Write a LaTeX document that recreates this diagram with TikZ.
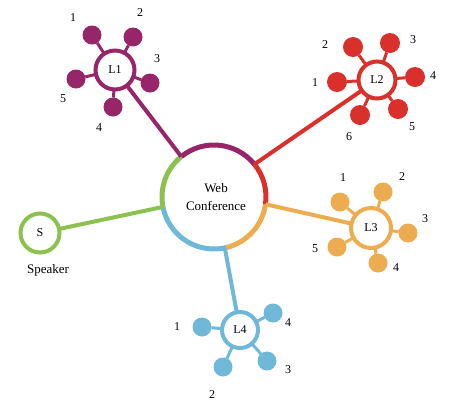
\documentclass[tikz,border=0pt]{standalone}
\usepackage{fontspec}
\setmainfont{Liberation Serif}
\definecolor{cPur}{RGB}{150,38,105}
\definecolor{cRed}{RGB}{218,48,44}
\definecolor{cOra}{RGB}{238,172,80}
\definecolor{cBlu}{RGB}{112,184,216}
\definecolor{cGre}{RGB}{140,193,80}
\begin{document}
\begin{tikzpicture}[x=1pt,y=-1pt,
  every node/.style={inner sep=0pt, outer sep=0pt},
  ring/.style={circle, draw=#1, line width=4pt, fill=white, font=\fontsize{12}{14}\selectfont},
  sat/.style={circle, fill=#1, minimum size=19pt},
  lnk/.style={draw=#1, line width=3pt},
  spoke/.style={draw=#1, line width=4pt},
  hubarc/.style={draw=#1, line width=5pt},
  num/.style={font=\fontsize{12}{14}\selectfont},
  word/.style={font=\fontsize{13}{18}\selectfont, align=center}
]
\useasboundingbox (0,0) rectangle (458,402);

% central hub
\node[circle, minimum size=104pt] (hub) at (214,197) {};
\node[word] (hubtext) at (216,197) {Web\\Conference};
\draw[hubarc=cPur] (hub.39)  arc[start angle=39,  end angle=129, radius=52pt];
\draw[hubarc=cGre] (hub.129) arc[start angle=129, end angle=191, radius=52pt];
\draw[hubarc=cBlu] (hub.191) arc[start angle=191, end angle=284, radius=52pt];
\draw[hubarc=cOra] (hub.284) arc[start angle=284, end angle=352, radius=52pt];
\draw[hubarc=cRed] (hub.352) arc[start angle=352, end angle=399, radius=52pt];

% rings
\node[ring=cPur, minimum size=39pt] (L1) at (115,70)  {L1};
\node[ring=cRed, minimum size=37pt] (L2) at (377,80)  {L2};
\node[ring=cOra, minimum size=40pt] (L3) at (371,228) {L3};
\node[ring=cBlu, minimum size=36pt] (L4) at (240,330) {L4};
\node[ring=cGre, minimum size=39pt] (S)  at (40,233)  {S};
\node[word] (spk) at (48,270) {Speaker};

% spokes to the hub
\draw[spoke=cPur] (L1) -- (hub.129);
\draw[spoke=cGre] (S)  -- (hub.191);
\draw[spoke=cBlu] (L4) -- (hub.282);
\draw[spoke=cOra] (L3) -- (hub.352);
\draw[spoke=cRed] (L2) -- (hub.39);

% satellites
\foreach \i/\sx/\sy/\tx/\ty in {1/92/35/73/18, 2/133/37/140/13, 3/150/83/157/59, 4/113/107/99/128, 5/76/79/63/99} {
  \node[sat=cPur] (L1s\i) at (\sx,\sy) {};
  \draw[lnk=cPur] (L1) -- (L1s\i);
  \node[num] (L1n\i) at (\tx,\ty) {\i};
}
\foreach \i/\sx/\sy/\tx/\ty in {1/337/82/315/83, 2/353/47/325/45, 3/390/43/413/40, 4/415/77/433/76, 5/398/109/412/127, 6/360/115/349/137} {
  \node[sat=cRed, minimum size=20pt] (L2s\i) at (\sx,\sy) {};
  \draw[lnk=cRed] (L2) -- (L2s\i);
  \node[num] (L2n\i) at (\tx,\ty) {\i};
}
\foreach \i/\sx/\sy/\tx/\ty in {1/340/202/343/178, 2/383/192/402/177, 3/408/233/425/219, 4/378/263/396/268, 5/337/247/315/249} {
  \node[sat=cOra] (L3s\i) at (\sx,\sy) {};
  \draw[lnk=cOra] (L3) -- (L3s\i);
  \node[num] (L3n\i) at (\tx,\ty) {\i};
}
\foreach \i/\sx/\sy/\tx/\ty in {1/202/327/177/327, 2/223/367/212/395, 3/267/361/288/370, 4/273/313/288/323} {
  \node[sat=cBlu] (L4s\i) at (\sx,\sy) {};
  \draw[lnk=cBlu] (L4) -- (L4s\i);
  \node[num] (L4n\i) at (\tx,\ty) {\i};
}
\end{tikzpicture}
\end{document}
